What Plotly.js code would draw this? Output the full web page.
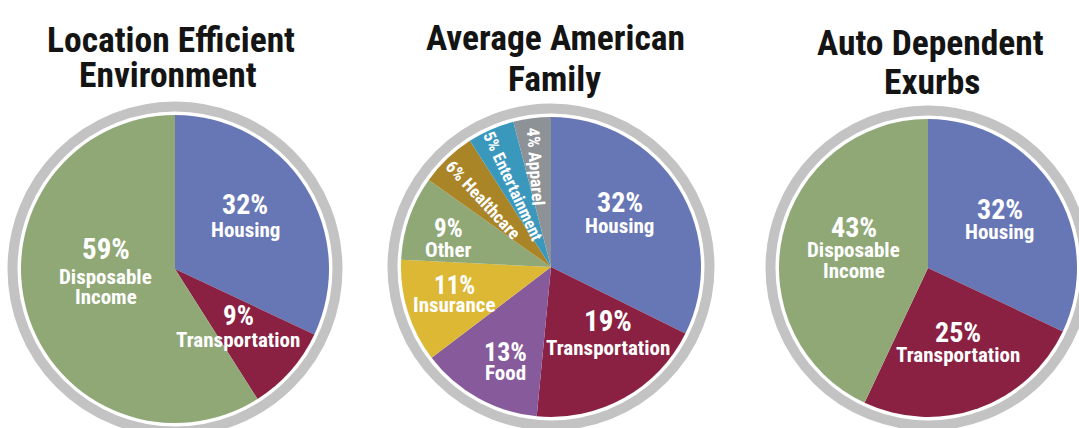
<!DOCTYPE html>
<html>
<head>
<meta charset="utf-8">
<script src="https://cdn.plot.ly/plotly-3.0.1.min.js"></script>
<style>
  html, body { margin: 0; padding: 0; background: #ffffff; }
  #chart { width: 1079px; height: 428px; }
</style>
</head>
<body>
<div id="chart"></div>
<script>
// ---------------- DATA ----------------
const titles = [
  ['Location Efficient', 'Environment'],
  ['Average American', 'Family'],
  ['Auto Dependent', 'Exurbs']
];

const pie1Labels = ['Housing', 'Transportation', 'Disposable Income'];
const pie1Values = [32, 9, 59];

const pie2Labels = ['Housing', 'Transportation', 'Food', 'Insurance', 'Other', 'Healthcare', 'Entertainment', 'Apparel'];
const pie2Values = [32, 19, 13, 11, 9, 6, 5, 4];

const pie3Labels = ['Housing', 'Transportation', 'Disposable Income'];
const pie3Values = [32, 25, 43];

// ---------------- STYLE ----------------
const W = 1079, H = 428;
const FONT = '"Roboto Condensed", "Open Sans", Roboto, sans-serif';
const colorMap = {
  'Housing': '#6777b5',
  'Transportation': '#8a2143',
  'Disposable Income': '#8fa876',
  'Food': '#875a9b',
  'Insurance': '#dcb834',
  'Other': '#8fa876',
  'Healthcare': '#aa8528',
  'Entertainment': '#3a98bd',
  'Apparel': '#8d9297'
};
const RING_COLOR = '#c3c3c3';

// pie geometry (pixels): centre and radius
const pies = [
  { cx: 175, cy: 269, r: 154, labels: pie1Labels, values: pie1Values, titleCx: [171, 168], titleCy: [40, 75.5] },
  { cx: 551, cy: 267, r: 150, labels: pie2Labels, values: pie2Values, titleCx: [555, 554], titleCy: [38, 79] },
  { cx: 928, cy: 268, r: 149, labels: pie3Labels, values: pie3Values, titleCx: [930, 932], titleCy: [42.5, 81.5] }
];

// label placement (pixel offsets of the percentage line from the pie centre)
// [dx, dy, pctSize, gap to first name line, rotate angle (0 = horizontal)]
const labelPlacement = [
  [[70, -64.5, 28, 25, 0], [63, 47, 27, 24, 0], [-69.5, -20, 29, 27.5, 0]],
  [[68.5, -64.5, 28, 24, 0], [56.5, 54, 29, 26.5, 0], [-45.5, 85, 26, 21, 0],
   [-97, 18.5, 25, 19, 0], [-103, -38.5, 25, 21.5, 0],
   [-68, -67, 17.5, 0, 47], [-38, -81, 16.8, 0, 65], [-15.5, -101, 17.5, 0, 86]],
  [[71.5, -59, 28, 22.5, 0], [29.5, 64, 28, 23, 0], [-74.5, -40.5, 28, 22.5, 0]]
];
const NAME_SIZE = 21;
const NAME_LINE_GAP = 20.5;
const TITLE_SIZE = 35.5;

const px = x => x / W;
const py = y => 1 - y / H;

function txt(x, y, text, size, color, angle) {
  return {
    xref: 'paper', yref: 'paper', x: px(x), y: py(y),
    xanchor: 'center', yanchor: 'middle',
    text: text, showarrow: false, textangle: angle || 0,
    font: { family: FONT, size: size, color: color, weight: 700 }
  };
}

const traces = [];
const annotations = [];
const shapes = [];

pies.forEach((p, i) => {
  traces.push({
    type: 'pie',
    labels: p.labels,
    values: p.values,
    sort: false,
    direction: 'clockwise',
    rotation: 0,
    textinfo: 'none',
    hoverinfo: 'skip',
    showlegend: false,
    marker: { colors: p.labels.map(l => colorMap[l]), line: { width: 0 } },
    domain: { x: [px(p.cx - p.r), px(p.cx + p.r)], y: [py(p.cy + p.r), py(p.cy - p.r)] }
  });

  // grey ring
  const R = p.r + 8.5;
  shapes.push({
    type: 'circle', xref: 'paper', yref: 'paper', layer: 'below',
    x0: px(p.cx - R), x1: px(p.cx + R), y0: py(p.cy + R), y1: py(p.cy - R),
    line: { color: RING_COLOR, width: 10 }, fillcolor: 'rgba(0,0,0,0)'
  });

  // titles
  titles[i].forEach((t, k) => {
    annotations.push(txt(p.titleCx[k], p.titleCy[k], t, TITLE_SIZE, '#141414', 0));
  });

  // slice labels
  p.labels.forEach((lab, j) => {
    const [dx, dy, pSize, gap, ang] = labelPlacement[i][j];
    const x = p.cx + dx, y = p.cy + dy;
    if (ang) {
      annotations.push(txt(x, y, p.values[j] + '% ' + lab, pSize, '#ffffff', ang));
    } else {
      annotations.push(txt(x, y, p.values[j] + '%', pSize, '#ffffff', 0));
      lab.split(' ').forEach((w, k) => {
        annotations.push(txt(x, y + gap + k * NAME_LINE_GAP, w, NAME_SIZE, '#ffffff', 0));
      });
    }
  });
});

const layout = {
  width: W, height: H,
  margin: { l: 0, r: 0, t: 0, b: 0 },
  paper_bgcolor: '#ffffff',
  plot_bgcolor: '#ffffff',
  showlegend: false,
  annotations: annotations,
  shapes: shapes
};

Plotly.newPlot('chart', traces, layout, { staticPlot: true, displayModeBar: false });
</script>
</body>
</html>
